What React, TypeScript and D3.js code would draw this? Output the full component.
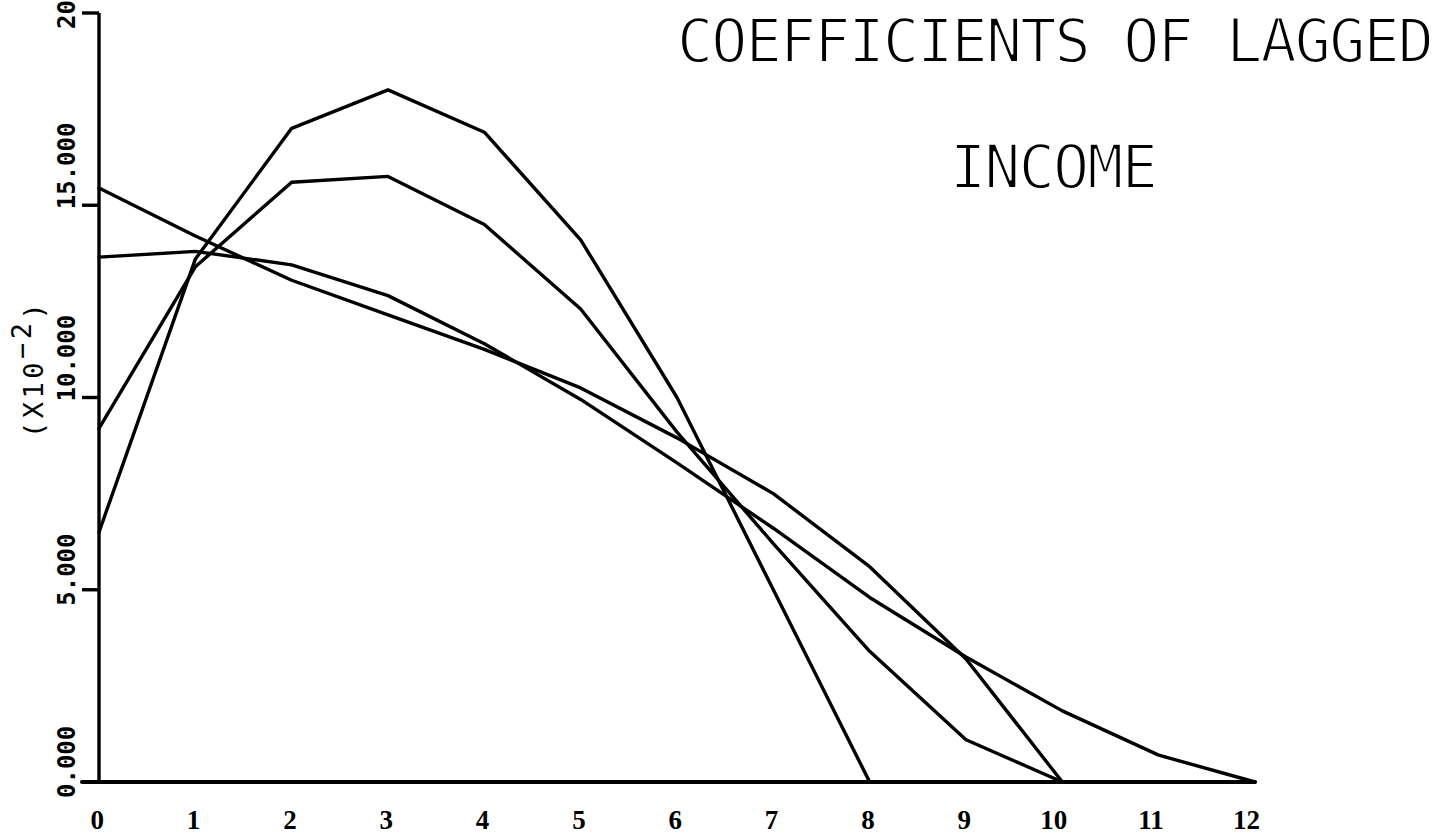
import React from "react";
import * as d3 from "d3";

// Lag index (x) and coefficient series (units of 10^-2)
const lags = [0, 1, 2, 3, 4, 5, 6, 7, 8, 9, 10, 11, 12];
const seriesA = [6.5, 13.6, 17.0, 18.0, 16.9, 14.1, 10.0, 5.0, 0.0];
const seriesB = [9.2, 13.4, 15.6, 15.75, 14.5, 12.3, 9.1, 6.2, 3.4, 1.1, 0.0];
const seriesC = [15.45, 14.2, 13.05, 12.15, 11.25, 10.25, 8.95, 7.5, 5.6, 3.2, 0.0];
const seriesD = [13.65, 13.8, 13.45, 12.65, 11.4, 9.95, 8.3, 6.6, 4.8, 3.25, 1.85, 0.7, 0.0];
const allSeries = [seriesA, seriesB, seriesC, seriesD];

const xTickLabels = ["0", "1", "2", "3", "4", "5", "6", "7", "8", "9", "10", "11", "12"];
const yTicks = [0, 5, 10, 15, 20];
const yTickLabels = ["0.000", "5.000", "10.000", "15.000", "20"];
const titleLines = ["COEFFICIENTS OF LAGGED", "INCOME"];

const W = 1438;
const H = 836;

export default function App() {
  const x = d3.scaleLinear().domain([0, 12]).range([99, 1255]);
  const y = d3.scaleLinear().domain([0, 20]).range([782, 13]);
  const line = d3
    .line<number>()
    .x((_, i) => x(lags[i]))
    .y((v) => y(v));

  const mono = "'DejaVu Sans Mono', monospace";

  return (
    <svg
      width={W}
      height={H}
      viewBox={`0 0 ${W} ${H}`}
      style={{ position: "absolute", left: 0, top: 0, background: "#fff" }}
    >
      <rect x={0} y={0} width={W} height={H} fill="#fff" />

      {/* data lines */}
      {allSeries.map((s, k) => (
        <path
          key={k}
          d={line(s) || ""}
          fill="none"
          stroke="#000"
          strokeWidth={3.4}
          strokeLinejoin="round"
          strokeLinecap="round"
        />
      ))}

      {/* y axis */}
      <line x1={x(0)} x2={x(0)} y1={y(20)} y2={y(0)} stroke="#000" strokeWidth={3.4} />
      {yTicks.map((t) => (
        <line key={t} x1={x(0) - 17} x2={x(0)} y1={y(t)} y2={y(t)} stroke="#000" strokeWidth={3.4} />
      ))}
      {/* x axis */}
      <line x1={x(0) - 17} x2={x(12)} y1={y(0)} y2={y(0)} stroke="#000" strokeWidth={4} strokeLinecap="round" />

      {/* y tick labels */}
      {yTicks.map((t, i) => {
        const lab = yTickLabels[i];
        const off = lab.length >= 6 ? 4 : 16;
        return (
          <text
            key={t}
            transform={`translate(75, ${y(t) + off}) rotate(-90)`}
            fontFamily={mono}
            fontWeight="bold"
            fontSize={24}
            textAnchor="start"
            fill="#000"
          >
            {lab}
          </text>
        );
      })}

      {/* y axis unit label */}
      <text
        transform="translate(43, 438) rotate(-90)"
        fontFamily={mono}
        fontSize={27}
        letterSpacing={3.5}
        fill="#000"
      >
        <tspan>(X10</tspan>
        <tspan dy={-12}>−2</tspan>
        <tspan dy={12}>)</tspan>
      </text>

      {/* x tick labels */}
      {lags.map((l, i) => (
        <text
          key={l}
          x={x(l) + 5}
          y={829}
          fontFamily="'Liberation Serif', serif"
          fontWeight="bold"
          fontSize={27}
          textAnchor="end"
          fill="#000"
        >
          {xTickLabels[i]}
        </text>
      ))}

      {/* title */}
      <text
        x={677}
        y={62}
        fontFamily={mono}
        fontSize={60}
        letterSpacing={-1.8}
        fill="#000"
        stroke="#fff"
        strokeWidth={2}
      >
        {titleLines[0]}
      </text>
      <text
        x={1053}
        y={188}
        fontFamily={mono}
        fontSize={60}
        letterSpacing={-1.8}
        textAnchor="middle"
        fill="#000"
        stroke="#fff"
        strokeWidth={2}
      >
        {titleLines[1]}
      </text>
    </svg>
  );
}
